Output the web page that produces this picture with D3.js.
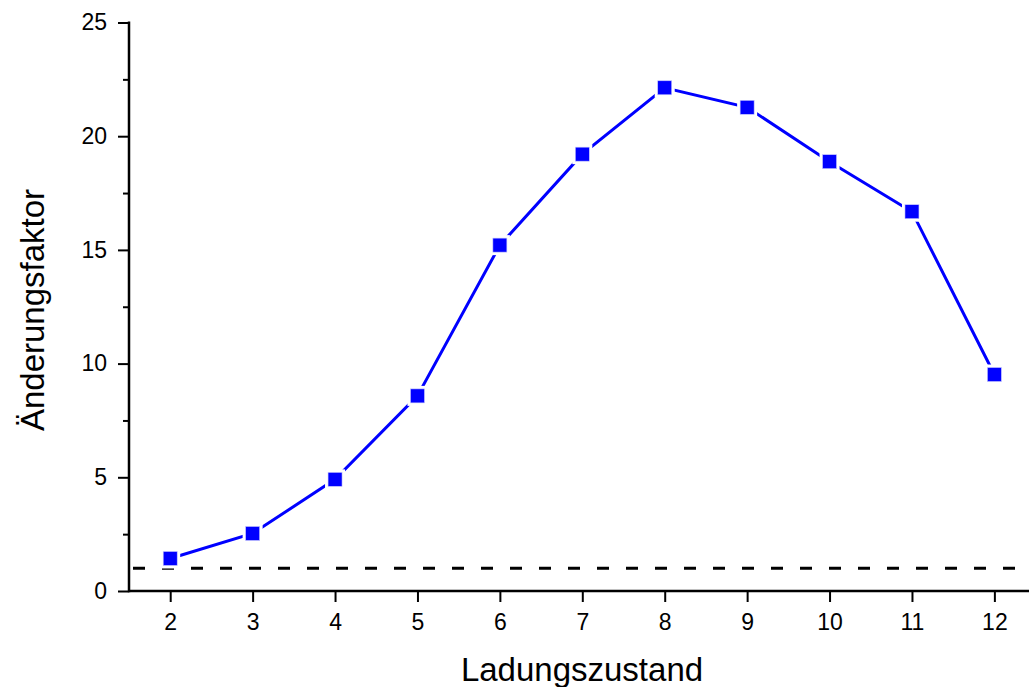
<!doctype html>
<html lang="de">
<head>
<meta charset="utf-8">
<style>
html, body {
    margin: 0;
    padding: 0;
    background: #fff;
    overflow: hidden;
}
svg text {
    font-family: "Liberation Sans", Arial, sans-serif;
    fill: #000;
}
</style>
</head>
<body>
<svg id="chart" width="1029" height="687"></svg>
<script src="https://cdn.jsdelivr.net/npm/d3@7/dist/d3.min.js"></script>
<script>
// data
const charge = [2, 3, 4, 5, 6, 7, 8, 9, 10, 11, 12];
const factor = [1.43, 2.53, 4.91, 8.58, 15.21, 19.21, 22.13, 21.27, 18.88, 16.68, 9.52];
const xTicks = [2, 3, 4, 5, 6, 7, 8, 9, 10, 11, 12];
const yTicks = [0, 5, 10, 15, 20, 25];
const yMinor = [2.5, 7.5, 12.5, 17.5, 22.5];
const refLevel = 1;

const svg = d3.select('#chart');
const W = 1029, H = 687;
const padLeft = 129, padBottom = 591, padTop = 22.5;

const x = d3.scaleLinear().domain([1.5, 12.42]).range([padLeft, W]);
const y = d3.scaleLinear().domain([0, 25]).range([padBottom, padTop]);

// reference line at 1
svg.append('line')
    .attr('x1', x(1.5) + 4).attr('x2', W)
    .attr('y1', y(refLevel)).attr('y2', y(refLevel))
    .attr('stroke', '#000')
    .attr('stroke-width', 3)
    .attr('stroke-dasharray', '12 17');

// axes
const xAxis = d3.axisBottom(x).tickValues(xTicks).tickSize(11).tickPadding(12).tickFormat(d3.format('d'));
const yAxis = d3.axisLeft(y).tickValues(yTicks).tickSize(11).tickPadding(11).tickFormat(d3.format('d'));
const yAxisMinor = d3.axisLeft(y).tickValues(yMinor).tickSize(6).tickFormat('');

const gx = svg.append('g').attr('transform', `translate(0,${padBottom})`).call(xAxis);
const gy = svg.append('g').attr('transform', `translate(${padLeft},0)`).call(yAxis);
const gym = svg.append('g').attr('transform', `translate(${padLeft},0)`).call(yAxisMinor);

[gx, gy, gym].forEach(g => {
    g.attr('font-size', 23).attr('font-family', '"Liberation Sans", Arial, sans-serif');
    g.select('.domain').remove();
    g.selectAll('.tick line').attr('stroke', '#000').attr('stroke-width', 2);
    g.selectAll('.tick text').attr('fill', '#000');
});

svg.append('line')
    .attr('x1', padLeft).attr('x2', W)
    .attr('y1', padBottom).attr('y2', padBottom)
    .attr('stroke', '#000').attr('stroke-width', 2.5);
svg.append('line')
    .attr('x1', padLeft).attr('x2', padLeft)
    .attr('y1', padTop - 1).attr('y2', padBottom + 1.2)
    .attr('stroke', '#000').attr('stroke-width', 2.5);

// series
const pts = charge.map((c, i) => ({c: c, v: factor[i]}));
svg.append('path')
    .datum(pts)
    .attr('fill', 'none')
    .attr('stroke', '#0000ff')
    .attr('stroke-width', 3)
    .attr('d', d3.line().x(d => x(d.c)).y(d => y(d.v)));

svg.append('g').selectAll('rect.halo').data(pts).enter()
    .append('rect')
    .attr('x', d => x(d.c) - 10).attr('y', d => y(d.v) - 10)
    .attr('width', 20).attr('height', 20)
    .attr('fill', '#fff');
svg.append('g').selectAll('rect.mark').data(pts).enter()
    .append('rect')
    .attr('x', d => x(d.c) - 7).attr('y', d => y(d.v) - 7)
    .attr('width', 14).attr('height', 14)
    .attr('fill', '#0000ff')
    .attr('stroke', '#c8c8ff')
    .attr('stroke-width', 0.6);

// axis titles
svg.append('text')
    .attr('x', 582).attr('y', 681)
    .attr('text-anchor', 'middle')
    .style('font-size', '33px')
    .text('Ladungszustand');
svg.append('text')
    .attr('transform', 'translate(44,310) rotate(-90)')
    .attr('text-anchor', 'middle')
    .style('font-size', '33px')
    .text('Änderungsfaktor');
</script>
</body>
</html>
